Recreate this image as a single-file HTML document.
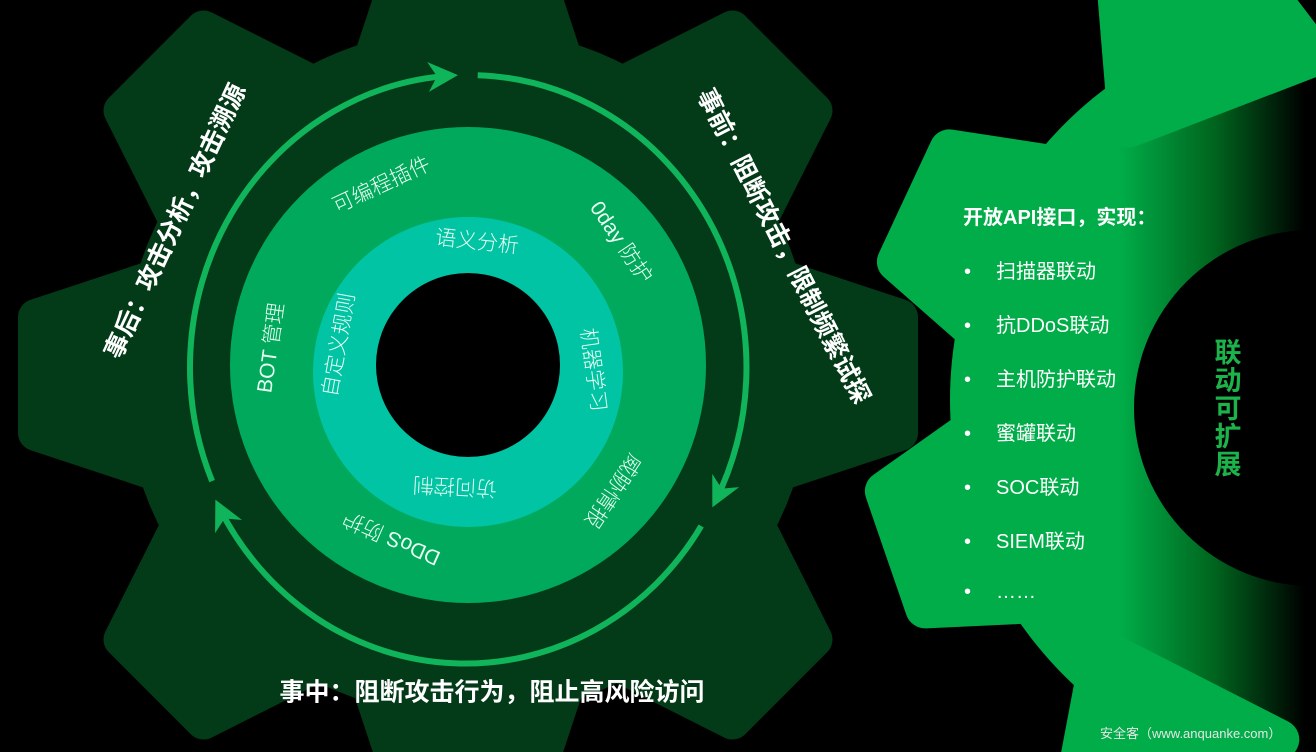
<!DOCTYPE html>
<html><head><meta charset="utf-8"><style>
html,body{margin:0;padding:0;background:#000;width:1316px;height:752px;overflow:hidden;}
svg{display:block;}
text{font-family:"Liberation Sans","Noto Sans CJK SC",sans-serif;}
.lt{font-family:"Noto Sans CJK SC","Liberation Sans",sans-serif;font-weight:300;}
</style></head><body>
<svg width="1316" height="752" viewBox="0 0 1316 752" xmlns="http://www.w3.org/2000/svg">
<defs>
<linearGradient id="rg" gradientUnits="userSpaceOnUse" x1="1120" y1="0" x2="1305" y2="0">
<stop offset="0" stop-color="#00ad48"/><stop offset="0.5" stop-color="#00661f"/><stop offset="1" stop-color="#000"/>
</linearGradient>
<marker id="ah" viewBox="0 0 10 10" refX="8" refY="5" markerWidth="5" markerHeight="5" orient="auto" markerUnits="strokeWidth">
<path d="M0,0 L10,5 L0,10 L3,5 Z" fill="#10b45a"/>
</marker>
</defs>
<rect width="1316" height="752" fill="#000"/>

<!-- right gear -->
<g fill="url(#rg)" stroke="url(#rg)" stroke-width="40" stroke-linejoin="round">
<circle cx="1340" cy="400" r="390" stroke="none"/>
<g transform="translate(1340,400)">
<polygon points="-100,-330 -62,-460 62,-460 100,-330" transform="rotate(-21)"/>
<polygon points="-100,-330 -62,-460 62,-460 100,-330" transform="rotate(-65)"/>
<polygon points="-100,-330 -62,-460 62,-460 100,-330" transform="rotate(-109)"/>
<polygon points="-100,-330 -62,-460 62,-460 100,-330" transform="rotate(-153)"/>
</g>
</g>
<circle cx="1312" cy="408" r="178" fill="#000"/>

<!-- left gear -->
<g fill="#033a17" stroke="#033a17" stroke-width="36" stroke-linejoin="round">
<circle cx="468" cy="372" r="345" stroke="none"/>
<g transform="translate(468,375)">
<polygon points="-105,-290 -58,-432 58,-432 105,-290"/>
<polygon points="-105,-290 -58,-432 58,-432 105,-290" transform="rotate(45)"/>
<polygon points="-105,-290 -58,-432 58,-432 105,-290" transform="rotate(90)"/>
<polygon points="-105,-290 -58,-432 58,-432 105,-290" transform="rotate(135)"/>
<polygon points="-105,-290 -58,-432 58,-432 105,-290" transform="rotate(180)"/>
<polygon points="-105,-290 -58,-432 58,-432 105,-290" transform="rotate(225)"/>
<polygon points="-105,-290 -58,-432 58,-432 105,-290" transform="rotate(270)"/>
<polygon points="-105,-290 -58,-432 58,-432 105,-290" transform="rotate(315)"/>
</g>
</g>

<circle cx="468" cy="365" r="238" fill="#00a95c"/>
<circle cx="468" cy="372" r="155" fill="#00c4a4"/>
<circle cx="468" cy="365" r="92" fill="#000"/>

<!-- arrows -->
<g fill="none" stroke="#10b45a" stroke-width="6">
<path d="M212.1,481.1 A278,292 0 0 1 452,75.5" marker-end="url(#ah)"/>
<path d="M477.7,75.2 A278,292 0 0 1 715,502" marker-end="url(#ah)"/>
<path d="M701.2,526 A278,292 0 0 1 218,505" marker-end="url(#ah)"/>
</g>

<!-- ring labels -->
<g class="lt" fill="#e8fff2" font-size="21" text-anchor="middle" dominant-baseline="middle">
<text transform="translate(382,186) rotate(-25)">可编程插件</text>
<text transform="translate(620,243) rotate(56)">0day 防护</text>
<text transform="translate(272,348) rotate(-82)">BOT 管理</text>
<text transform="translate(392,537) rotate(204)">DDoS 防护</text>
<text transform="translate(612,490) rotate(124)">威胁情报</text>
<text transform="translate(477,243) rotate(6)">语义分析</text>
<text transform="translate(592,370) rotate(82)">机器学习</text>
<text transform="translate(455,485) rotate(183)">访问控制</text>
<text transform="translate(340,345) rotate(-80)">自定义规则</text>
</g>

<g fill="#fff" font-size="25" font-weight="bold" text-anchor="middle" dominant-baseline="middle">
<text transform="translate(177,222) rotate(-65)">事后：攻击分析，攻击溯源</text>
<text transform="translate(782,247) rotate(63)">事前：阻断攻击，限制频繁试探</text>
<text x="492" y="694" font-size="25">事中：阻断攻击行为，阻止高风险访问</text>
</g>

<!-- right panel text -->
<g fill="#fff" font-size="20">
<text x="963" y="224" font-weight="bold">开放API接口，实现：</text>
<g font-size="20">
<text x="964" y="278">•</text><text x="996" y="278">扫描器联动</text>
<text x="964" y="332">•</text><text x="996" y="332">抗DDoS联动</text>
<text x="964" y="386">•</text><text x="996" y="386">主机防护联动</text>
<text x="964" y="440">•</text><text x="996" y="440">蜜罐联动</text>
<text x="964" y="494">•</text><text x="996" y="494">SOC联动</text>
<text x="964" y="548">•</text><text x="996" y="548">SIEM联动</text>
<text x="964" y="598">•</text><text x="996" y="598">……</text>
</g>
</g>
<g fill="#1db34b" font-size="27" font-weight="bold" text-anchor="middle">
<text x="1228" y="362">联</text>
<text x="1228" y="390">动</text>
<text x="1228" y="418">可</text>
<text x="1228" y="446">扩</text>
<text x="1228" y="474">展</text>
</g>
<text x="1100" y="738" fill="#e6e6e6" font-size="13">安全客（www.anquanke.com）</text>
</svg>
</body></html>
